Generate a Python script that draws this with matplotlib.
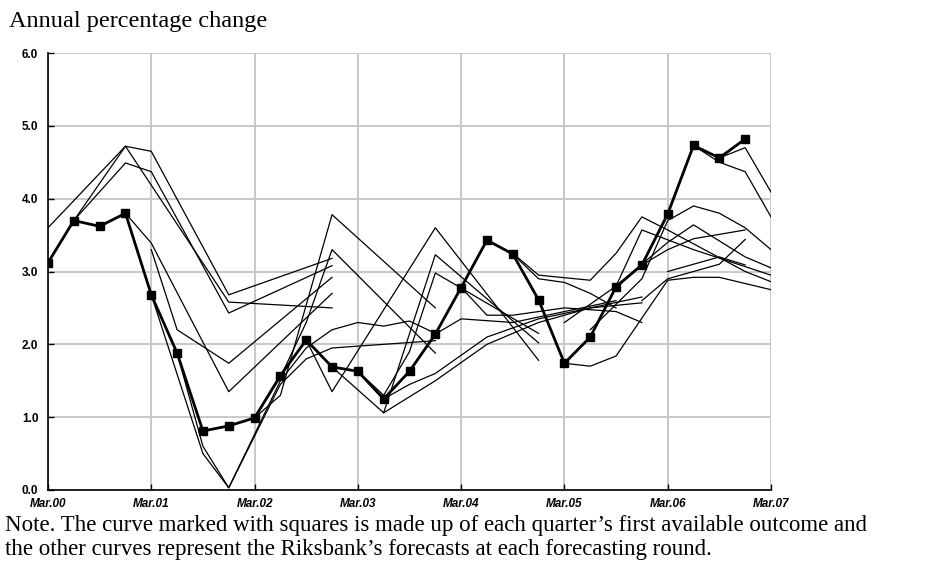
import matplotlib.pyplot as plt
import numpy as np

# quarter index 0 = Mar.00, 4 = Mar.01 ... 28 = Mar.07
year_labels = ["Mar.00", "Mar.01", "Mar.02", "Mar.03", "Mar.04", "Mar.05", "Mar.06", "Mar.07"]

# first available outcome, one value per quarter from Mar.00 to Dec.06
outcome = [3.12, 3.70, 3.62, 3.80, 2.68, 1.88, 0.81, 0.88, 0.99, 1.57, 2.06, 1.69,
           1.63, 1.25, 1.63, 2.14, 2.78, 3.43, 3.24, 2.61, 1.74, 2.10, 2.79, 3.09,
           3.79, 4.73, 4.56, 4.82]

# forecast rounds: (quarter index, value) at each kink of the curve
fc_00a = [(0, 3.60), (3, 4.72), (4, 4.65), (7, 2.68), (11, 3.18)]
fc_00b = [(1, 3.70), (3, 4.72), (7, 2.58), (11, 2.50)]
fc_00c = [(1, 3.70), (3, 4.49), (4, 4.37), (7, 2.43), (11, 3.08)]
fc_00d = [(3, 3.80), (4, 3.39), (7, 1.35), (11, 2.70)]
fc_01a = [(4, 3.30), (5, 2.20), (7, 1.74), (11, 2.92)]
fc_01b = [(5, 1.88), (6, 0.60), (7, 0.03), (9, 1.50), (10, 1.95), (11, 2.20),
          (12, 2.30), (13, 2.25), (14, 2.32), (15, 2.15)]
fc_01c = [(4, 2.68), (6, 0.50), (7, 0.03), (9, 1.45), (10, 1.80), (11, 1.95),
          (13, 2.00), (15, 2.05)]
fc_02a = [(8, 0.99), (9, 1.30), (11, 3.78), (15, 2.50)]
fc_02b = [(8, 0.99), (9, 1.55), (10, 2.30), (11, 3.30), (15, 1.88)]
fc_02c = [(10, 2.06), (11, 1.35), (15, 3.60), (19, 1.78)]
fc_02d = [(11, 1.69), (13, 1.06), (15, 3.23), (19, 2.02)]
fc_03a = [(12, 1.63), (13, 1.30), (14, 1.90), (15, 2.98), (19, 2.15)]
fc_03b = [(13, 1.25), (14, 1.45), (15, 1.60), (17, 2.10), (19, 2.35), (21, 2.50), (23, 2.65)]
fc_03c = [(13, 1.06), (15, 1.50), (17, 2.00), (19, 2.30), (21, 2.50), (23, 2.57)]
fc_03d = [(14, 1.63), (15, 2.14), (16, 2.35), (18, 2.30), (20, 2.45), (22, 2.60)]
fc_04a = [(16, 2.78), (17, 2.40), (18, 2.40), (20, 2.50), (22, 2.45), (23, 2.30)]
fc_04b = [(17, 3.43), (18, 3.24), (19, 2.90), (20, 2.85), (21, 2.70), (22, 2.50)]
fc_04c = [(18, 3.25), (19, 2.95), (21, 2.88), (22, 3.25), (23, 3.75), (24, 3.57),
          (27, 3.00), (28, 2.86)]
fc_05a = [(20, 2.30), (22, 2.80), (23, 3.57), (25, 3.30), (28, 2.95)]
fc_05b = [(21, 2.20), (23, 2.90), (24, 3.70), (25, 3.90), (26, 3.80), (27, 3.60), (28, 3.30)]
fc_05c = [(20, 1.74), (21, 1.70), (22, 1.84), (24, 2.88), (25, 2.92), (26, 2.92), (28, 2.75)]
fc_05d = [(22, 2.80), (23, 3.10), (24, 3.40), (25, 3.64), (27, 3.20), (28, 3.05)]
fc_06a = [(23, 3.09), (24, 3.30), (25, 3.45), (27, 3.57)]
fc_06b = [(23, 2.60), (24, 2.90), (26, 3.10), (27, 3.44)]
fc_06c = [(24, 3.00), (26, 3.20), (27, 3.09)]
fc_06d = [(25, 4.73), (26, 4.50), (27, 4.37), (28, 3.75)]
fc_06e = [(26, 4.56), (27, 4.70), (28, 4.09)]

forecasts = [fc_00a, fc_00b, fc_00c, fc_00d, fc_01a, fc_01b, fc_01c, fc_02a, fc_02b,
             fc_02c, fc_02d, fc_03a, fc_03b, fc_03c, fc_03d, fc_04a, fc_04b, fc_04c,
             fc_05a, fc_05b, fc_05c, fc_05d, fc_06a, fc_06b, fc_06c, fc_06d, fc_06e]

serif = ["Liberation Serif", "DejaVu Serif"]

fig = plt.figure(figsize=(9.42, 5.86), dpi=100)
ax = fig.add_axes([48 / 942, 96 / 586, 723 / 942, 437 / 586])

for fc in forecasts:
    q, v = zip(*fc)
    ax.plot(q, v, color="black", lw=0.9, zorder=3)

ax.plot(range(len(outcome)), outcome, color="black", lw=2.0, marker="s",
        markersize=6, zorder=4)

ax.set_xlim(0, 28)
ax.set_ylim(0, 6)
ax.set_xticks(np.arange(0, 29, 4))
ax.set_xticklabels(year_labels)
ax.set_yticks(np.arange(0, 7, 1))
ax.set_yticklabels([f"{v:.1f}" for v in range(7)])
ax.grid(True, color="#c8c8c8", lw=1.4, zorder=0)
ax.set_axisbelow(True)
for s in ["top", "right"]:
    ax.spines[s].set_visible(False)
ax.spines["left"].set_linewidth(1.2)
ax.spines["bottom"].set_linewidth(1.2)
ax.tick_params(axis="both", direction="in", length=4, width=1.0,
               labelsize=8.5)
ax.tick_params(axis="x", pad=6)
ax.tick_params(axis="y", pad=7)
for lab in ax.get_xticklabels() + ax.get_yticklabels():
    lab.set_fontweight("bold")
    lab.set_family(["Liberation Sans", "DejaVu Sans"])
for lab in ax.get_xticklabels():
    lab.set_fontstyle("italic")

fig.text(9 / 942, 1 - 22 / 586, "Annual percentage change", family=serif,
         fontsize=17.5, va="center", ha="left")
fig.text(5 / 942, 1 - 525 / 586,
         "Note. The curve marked with squares is made up of each quarter\u2019s first available outcome and",
         family=serif, fontsize=16.5, va="center", ha="left")
fig.text(5 / 942, 1 - 549 / 586,
         "the other curves represent the Riksbank\u2019s forecasts at each forecasting round.",
         family=serif, fontsize=16.5, va="center", ha="left")

fig.savefig("out.png", dpi=100)
